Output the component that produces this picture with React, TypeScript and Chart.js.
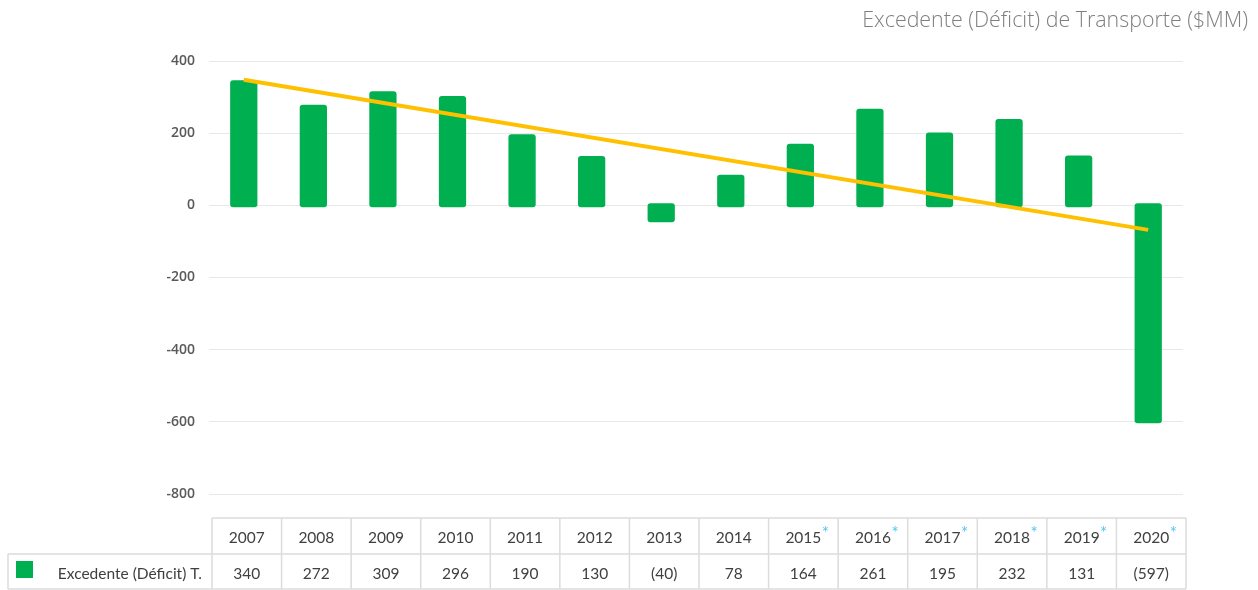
import React, { useEffect, useRef } from "react";
import { Chart, registerables } from "chart.js";

Chart.register(...registerables);

const categories = ["2007", "2008", "2009", "2010", "2011", "2012", "2013", "2014", "2015", "2016", "2017", "2018", "2019", "2020"];
const surplusValues = [340, 272, 309, 296, 190, 130, -40, 78, 164, 261, 195, 232, 131, -597];
const trendValues: (number | null)[] = [348, null, null, null, null, null, null, null, null, null, null, null, null, -68];
const starredYears = ["2015", "2016", "2017", "2018", "2019", "2020"];
const yTickValues = [400, 200, 0, -200, -400, -600, -800];
const seriesLabel = "Excedente (Déficit) T.";
const chartTitle = "Excedente (Déficit) de Transporte ($MM)";

const GREEN = "#00b050";
const GOLD = "#ffc000";

function formatTableValue(v: number): string {
  return v < 0 ? `(${Math.abs(v)})` : String(v);
}

const overlayPlugin = {
  id: "overlay",
  afterDraw(chart: any) {
    const ctx: CanvasRenderingContext2D = chart.ctx;
    const area = chart.chartArea;
    const n = categories.length;
    ctx.save();
    // title
    ctx.font = "300 21.4px 'Open Sans'";
    ctx.fillStyle = "#7f7f7f";
    ctx.textAlign = "right";
    ctx.textBaseline = "alphabetic";
    ctx.fillText(chartTitle, 1248, 27);

    // table
    const tLeft = area.left + 3;
    const colW = (area.right - area.left) / n;
    const tRight = tLeft + colW * n;
    const rowTop = area.bottom + 24;
    const rowMid = area.bottom + 60;
    const rowBot = area.bottom + 95;
    const legendLeft = 8;

    ctx.strokeStyle = "#dcdcdc";
    ctx.lineWidth = 1.5;
    ctx.beginPath();
    ctx.moveTo(tLeft, rowTop);
    ctx.lineTo(tRight, rowTop);
    ctx.moveTo(legendLeft, rowMid);
    ctx.lineTo(tRight, rowMid);
    ctx.moveTo(legendLeft, rowBot);
    ctx.lineTo(tRight, rowBot);
    ctx.moveTo(legendLeft, rowMid);
    ctx.lineTo(legendLeft, rowBot);
    for (let i = 0; i <= n; i++) {
      const x = tLeft + i * colW;
      ctx.moveTo(x, rowTop);
      ctx.lineTo(x, rowBot);
    }
    ctx.stroke();

    ctx.font = "15.5px Lato";
    ctx.textBaseline = "alphabetic";
    const hy = (rowTop + rowMid) / 2 + 7;
    const vy = (rowMid + rowBot) / 2 + 7;
    for (let i = 0; i < n; i++) {
      const cx = tLeft + (i + 0.5) * colW;
      ctx.fillStyle = "#404040";
      ctx.textAlign = "center";
      const year = categories[i];
      ctx.fillText(year, cx, hy);
      if (starredYears.includes(year)) {
        const w = ctx.measureText(year).width;
        ctx.save();
        ctx.font = "17px Lato";
        ctx.fillStyle = "#55c5f0";
        ctx.textAlign = "left";
        ctx.fillText("*", cx + w / 2 + 0.5, hy - 4);
        ctx.restore();
      }
      ctx.fillText(formatTableValue(surplusValues[i]), cx, vy);
    }
    // legend cell
    ctx.fillStyle = GREEN;
    ctx.fillRect(16, rowMid + 7, 17, 17);
    ctx.fillStyle = "#404040";
    ctx.textAlign = "right";
    ctx.fillText(seriesLabel, tLeft - 10, vy);
    ctx.restore();
  },
};

export default function App() {
  const ref = useRef<HTMLCanvasElement | null>(null);
  useEffect(() => {
    let chart: Chart | null = null;
    let cancelled = false;
    const fontsReady = Promise.all([
      document.fonts.load("300 21.4px 'Open Sans'"),
      document.fonts.load("600 14px 'Open Sans'"),
      document.fonts.load("15.5px Lato"),
    ]).catch(() => null);
    fontsReady.then(() => {
      if (cancelled || !ref.current) return;
      chart = new Chart(ref.current, {
        type: "bar",
        data: {
          labels: categories,
          datasets: [
            {
              type: "line",
              label: "Tendencia",
              data: trendValues,
              borderColor: GOLD,
              backgroundColor: GOLD,
              borderWidth: 4,
              pointRadius: 0,
              spanGaps: true,
              order: 0,
            } as any,
            {
              type: "bar",
              label: seriesLabel,
              data: surplusValues,
              backgroundColor: GREEN,
              borderWidth: 0,
              borderRadius: 3,
              borderSkipped: false,
              inflateAmount: 2.5,
              categoryPercentage: 1,
              barPercentage: 0.32,
              order: 1,
            } as any,
          ],
        },
        options: {
          responsive: false,
          animation: false,
          layout: { padding: { left: 0, right: 75, top: 61, bottom: 96 } },
          plugins: {
            legend: { display: false },
            tooltip: { enabled: false },
            title: { display: false },
          },
          scales: {
            x: { display: false },
            y: {
              min: -800,
              max: 400,
              afterFit(scale: any) {
                scale.width = 209;
              },
              afterBuildTicks(scale: any) {
                scale.ticks = yTickValues.map((v) => ({ value: v }));
              },
              border: { display: false },
              grid: { color: "#e8e8e8", lineWidth: 1, drawTicks: false },
              ticks: {
                padding: 14,
                color: "#595959",
                font: { family: "'Open Sans'", size: 14, weight: 600 as any },
                callback: (v: any) => String(v),
              },
            },
          },
        },
        plugins: [overlayPlugin],
      });
    });
    return () => {
      cancelled = true;
      if (chart) chart.destroy();
    };
  }, []);
  return (
    <div style={{ position: "fixed", left: 0, top: 0, width: 1258, height: 590, background: "#fff" }}>
      <canvas ref={ref} width={1258} height={590} style={{ width: 1258, height: 590, display: "block" }} />
    </div>
  );
}
